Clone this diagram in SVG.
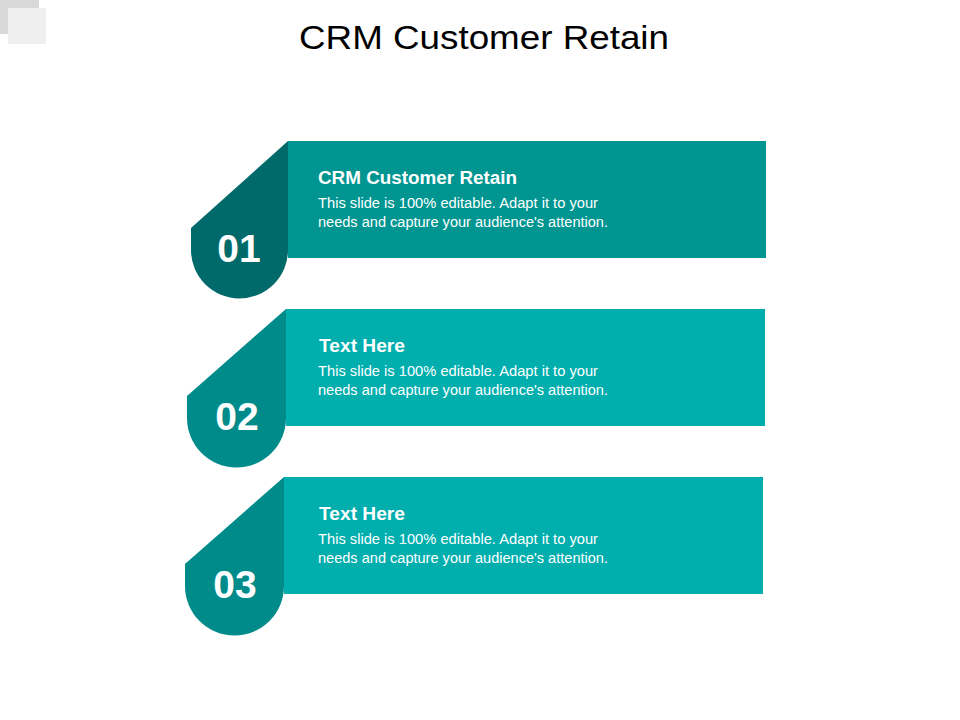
<svg xmlns="http://www.w3.org/2000/svg" width="960" height="720" viewBox="0 0 960 720">
<style>
text{font-family:"Liberation Sans",Arial,sans-serif;fill:#fff}
.h{font-size:18px;font-weight:bold}
.b{font-size:14px}
.n{font-size:39px;font-weight:bold;text-anchor:middle}
</style>
<rect width="960" height="720" fill="#fff"/>
<rect x="0" y="0" width="39" height="34" fill="#d9d9d9"/>
<rect x="8" y="8" width="38" height="36" fill="#efefef"/>
<text x="299" y="49" textLength="370" lengthAdjust="spacingAndGlyphs" style="fill:#000;font-size:34px">CRM Customer Retain</text>
<g id="item1">
<rect x="288" y="141" width="478" height="117" fill="#009591"/>
<path d="M288,141 L191,228 L191,250 A48.5,48.5 0 0 0 288,250 Z" fill="#006a6a"/>
<text class="n" x="239" y="262">01</text>
<text class="h" x="318" y="184" textLength="199" lengthAdjust="spacingAndGlyphs">CRM Customer Retain</text>
<text class="b" x="318" y="208" textLength="280" lengthAdjust="spacingAndGlyphs">This slide is 100% editable. Adapt it to your</text>
<text class="b" x="318" y="227" textLength="290" lengthAdjust="spacingAndGlyphs">needs and capture your audience's attention.</text>
</g>
<g id="item2">
<rect x="286" y="309" width="479" height="117" fill="#00aeae"/>
<path d="M286,309 L187,396 L187,418 A49.5,49.5 0 0 0 286,418 Z" fill="#008b8b"/>
<text class="n" x="237" y="430">02</text>
<text class="h" x="319" y="352" textLength="86" lengthAdjust="spacingAndGlyphs">Text Here</text>
<text class="b" x="318" y="376" textLength="280" lengthAdjust="spacingAndGlyphs">This slide is 100% editable. Adapt it to your</text>
<text class="b" x="318" y="395" textLength="290" lengthAdjust="spacingAndGlyphs">needs and capture your audience's attention.</text>
</g>
<g id="item3">
<rect x="284" y="477" width="479" height="117" fill="#00aeae"/>
<path d="M284,477 L185,564 L185,586 A49.5,49.5 0 0 0 284,586 Z" fill="#008b8b"/>
<text class="n" x="235" y="598">03</text>
<text class="h" x="319" y="520" textLength="86" lengthAdjust="spacingAndGlyphs">Text Here</text>
<text class="b" x="318" y="544" textLength="280" lengthAdjust="spacingAndGlyphs">This slide is 100% editable. Adapt it to your</text>
<text class="b" x="318" y="563" textLength="290" lengthAdjust="spacingAndGlyphs">needs and capture your audience's attention.</text>
</g>
<g id="connectors"/>
</svg>
